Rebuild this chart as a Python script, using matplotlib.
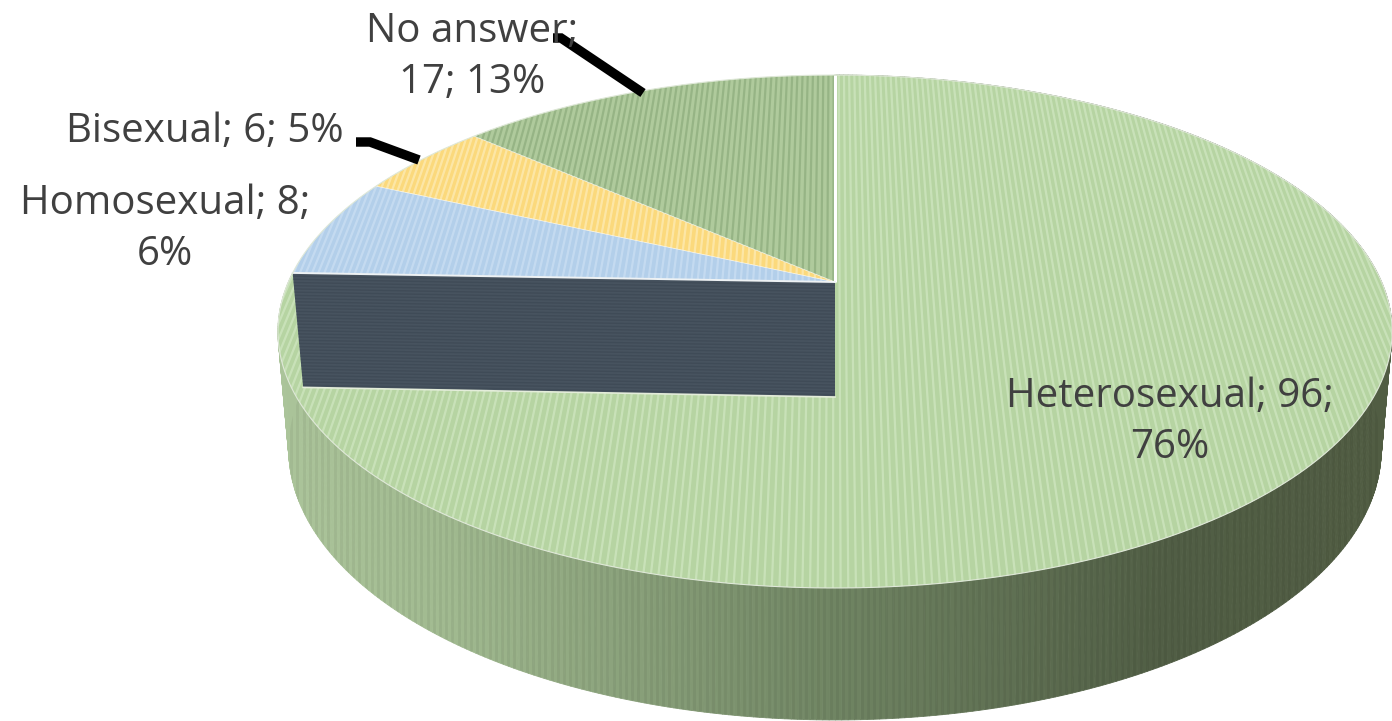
import numpy as np
import matplotlib
matplotlib.use("Agg")
import matplotlib.pyplot as plt
from matplotlib.collections import LineCollection, PolyCollection
from matplotlib.colors import to_rgb

categories = ["Heterosexual", "Homosexual", "Bisexual", "No answer"]
counts = [96, 8, 6, 17]
percents = [76, 6, 5, 13]
top_colors = ["#b6d4a2", "#b3cfea", "#fbd97c", "#afca9c"]
stripe_colors = ["#cbe3bb", "#c6dcf1", "#fde8ab", "#94b283"]

plt.rcParams["font.family"] = ["Open Sans", "DejaVu Sans"]
fig = plt.figure(figsize=(13.92, 7.21), dpi=100)
ax = fig.add_axes([0, 0, 1, 1])
ax.set_xlim(0, 1392)
ax.set_ylim(721, 0)
ax.axis("off")

CX = 835.0
PERSP = 0.193


def project(u, v, level):
    """Map the unit disc onto the tilted pie; level 0 is the top face, 1 the base."""
    u, v = np.asarray(u, float), np.asarray(v, float)
    half_w, cy, slope = ((546.6, 282.0, -192.5), (536.0, 397.0, -184.0))[level]
    d = 1 + PERSP * v
    return CX + half_w * u / d, (slope * v + cy) / d


def rim(t0, t1, level=0, n=300):
    t = np.radians(np.linspace(t0, t1, n))
    return project(np.sin(t), np.cos(t), level)


edges = np.concatenate([[0], np.cumsum(counts)]) / np.sum(counts) * 360

# side wall of the large slice, shaded by horizontal position
t = np.linspace(edges[0], edges[1], 500)
xt, yt = rim(edges[0], edges[1], 0, 500)
xb, yb = rim(edges[0], edges[1], 1, 500)
order = np.argsort(-np.cos(np.radians(t[:-1])))
xs_rel = (xt[:-1] - 278) / (1392 - 278)
stops_x = [0.0, 0.15, 0.5, 0.8, 1.0]
stops_c = np.array([to_rgb(c) for c in ["#abc49a", "#a1ba90", "#708563", "#515e45", "#515d43"]])
shade = np.column_stack([np.interp(xs_rel, stops_x, stops_c[:, i]) for i in range(3)])
quads = [[(xt[i], yt[i]), (xt[i + 1], yt[i + 1]), (xb[i + 1], yb[i + 1]), (xb[i], yb[i])] for i in order]
side = PolyCollection(quads, facecolors=shade[order], edgecolors=shade[order], linewidths=0.6, zorder=1)
ax.add_collection(side)

# fine stripes of the side wall
fx, fy = rim(70, edges[1], 0, 200)
bx, by = rim(70, edges[1], 1, 200)
side_clip = ax.fill(np.r_[fx, bx[::-1]], np.r_[fy, by[::-1]], facecolor="none", lw=0, zorder=1)[0]
side_lines = LineCollection([[(x, 330), (x, 721)] for x in np.arange(285, 1392, 6.2)],
                            colors="black", linewidths=2.0, alpha=0.05, zorder=1.5)
ax.add_collection(side_lines)
side_lines.set_clip_path(side_clip)

# top faces
for i, name in enumerate(categories):
    x, y = rim(edges[i], edges[i + 1])
    px, py = project(0, 0, 0)
    poly = ax.fill(np.r_[x, px], np.r_[y, py], color=top_colors[i], lw=0, zorder=2 + 0.1 * (i > 0))[0]
    us = np.arange(-1.02, 1.02, 0.0113)
    vv = np.array([-1.2, 1.2])
    segs = []
    for u in us:
        lx, ly = project(np.full(2, u), vv, 0)
        segs.append(np.column_stack([lx, ly]))
    lc = LineCollection(segs, colors=stripe_colors[i], linewidths=1.6, alpha=0.9, zorder=2.05 + 0.1 * (i > 0))
    ax.add_collection(lc)
    lc.set_clip_path(poly)

# cut face exposed below the apex
x0, y0 = rim(edges[1], edges[1], 0, 1)
x1, y1 = rim(edges[1], edges[1], 1, 1)
ax0, ay0 = project(0, 0, 0)
ax1, ay1 = project(0, 0, 1)
wall_x = [x0[0], ax0, ax1, x1[0]]
wall_y = [y0[0], ay0, ay1, y1[0]]
wall = ax.fill(wall_x, wall_y, color="#47535f", lw=0, zorder=3)[0]
fr = np.arange(0, 1, 0.028)
wsegs = [[(x0[0] + f * (x1[0] - x0[0]), y0[0] + f * (y1[0] - y0[0])),
          (ax0, ay0 + f * (ay1 - ay0))] for f in fr]
wl = LineCollection(wsegs, colors="#3e4955", linewidths=1.0, alpha=0.8, zorder=3.05)
ax.add_collection(wl)
wl.set_clip_path(wall)

# white seams
ax.plot([ax0, ax0], [rim(0, 0, 0, 1)[1][0], ay0], color="white", lw=2.2, zorder=4, solid_capstyle="butt")
ax.plot([x0[0], ax0], [y0[0], ay0], color="#eef2f4", lw=1.4, zorder=4)
ax.plot(wall_x[2:], wall_y[2:], color="#e4edda", lw=1.2, zorder=4)
for e in edges[2:-1]:
    ex, ey = rim(e, e, 0, 1)
    ax.plot([ex[0], ax0], [ey[0], ay0], color="white", lw=0.6, alpha=0.6, zorder=4)
rx, ry = rim(edges[0], edges[-1])
ax.plot(rx, ry, color="#dfe8d8", lw=0.8, zorder=4)

# leader lines
ax.plot([553, 561, 643], [38, 38, 93], color="black", lw=6.8, solid_joinstyle="miter", solid_capstyle="butt", zorder=5)
ax.plot([356, 370, 419], [142, 142, 160], color="black", lw=6.8, solid_joinstyle="miter", solid_capstyle="butt", zorder=5)


# data labels
def label(i, pos, wrap):
    text = f"{categories[i]}; {counts[i]}; {percents[i]}%"
    if wrap:
        text = text[:wrap].rstrip() + "\n" + text[wrap:].lstrip()
    ax.text(*pos, text, ha="center", va="center", fontsize=29, color="#404040",
            linespacing=1.36, zorder=6)


label(0, (1170, 422), len("Heterosexual; 96;"))
label(1, (165, 229), len("Homosexual; 8;"))
label(2, (205, 132), 0)
label(3, (472, 57), len("No answer;"))

fig.savefig("out.png", dpi=100, facecolor="white")
